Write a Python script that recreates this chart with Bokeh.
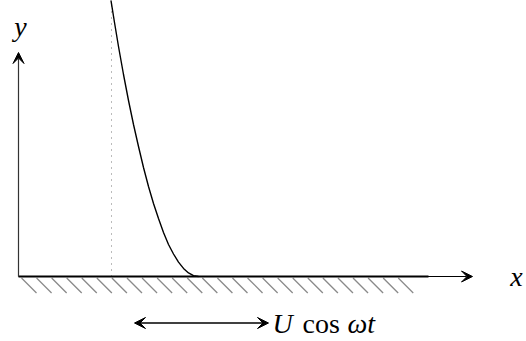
from bokeh.plotting import figure
from bokeh.models import Range1d, Arrow, VeeHead
from bokeh.core.properties import value
from bokeh.embed import file_html
from bokeh.resources import INLINE
import numpy as np

# Diagram values (units: pixels relative to the origin, y upward)
curve_x = [92, 96, 100, 105, 110, 115, 120, 125, 130, 135, 140, 145, 150,
           155, 160, 165, 170, 175, 180]
curve_h = [279, 254, 230, 202, 176, 152, 130, 109, 90, 73, 58, 44, 32,
           22.5, 14.4, 8.1, 3.6, 0.9, 0]
dotted_x = 93
ground_end = 410
x_axis_end = 454
y_axis_end = 224
hatch_start = 3
hatch_step = 15.07
hatch_count = 26
osc_left, osc_right, osc_h = 116, 250, -46.5
label_x = "x"
label_y = "y"
osc_parts = ["U", "cos", "ωt"]

p = figure(width=526, height=341, output_backend="svg", toolbar_location=None,
           x_range=Range1d(-18, 508), y_range=Range1d(-65, 276),
           min_border=0)
p.axis.visible = False
p.grid.visible = False
p.outline_line_color = None
p.background_fill_color = "white"
p.border_fill_color = "white"

# hatching below the ground
hx0 = hatch_start + hatch_step * np.arange(hatch_count)
p.segment(x0=hx0, y0=-1.5, x1=hx0 + 15, y1=-16.5, line_color="#8a8a8a", line_width=1.3)

# dotted line
p.segment(x0=[dotted_x], y0=[0], x1=[dotted_x], y1=[280], line_color="#777777",
          line_width=1, line_dash="1 5")

# x axis (thin with arrow) and ground (thick)
p.add_layout(Arrow(x_start=0, y_start=0, x_end=x_axis_end, y_end=0,
                   line_color="black", line_width=1,
                   end=VeeHead(size=11, fill_color="black", line_color="black")))
p.segment(x0=[0], y0=[0], x1=[ground_end], y1=[0], line_color="black", line_width=2.2)

# y axis
p.add_layout(Arrow(x_start=0, y_start=0, x_end=0, y_end=y_axis_end,
                   line_color="#333333", line_width=1.2,
                   end=VeeHead(size=11, fill_color="black", line_color="black")))

# curve
p.line(curve_x, curve_h, line_color="black", line_width=1.4)

# oscillation arrow
p.add_layout(Arrow(x_start=osc_left, y_start=osc_h, x_end=osc_right, y_end=osc_h,
                   line_color="black", line_width=1.6,
                   start=VeeHead(size=11, fill_color="black", line_color="black"),
                   end=VeeHead(size=11, fill_color="black", line_color="black")))

font = value("Liberation Serif")
p.text(x=[254], y=[osc_h], text=[osc_parts[0]], text_font=font, text_font_size="28px",
       text_font_style="italic", text_baseline="middle", text_align="left")
p.text(x=[284], y=[osc_h], text=[osc_parts[1]], text_font=font, text_font_size="28px",
       text_baseline="middle", text_align="left")
p.text(x=[329], y=[osc_h], text=[osc_parts[2]], text_font=font, text_font_size="28px",
       text_font_style="italic", text_baseline="middle", text_align="left")

p.text(x=[498], y=[0], text=[label_x], text_font=font, text_font_size="28px",
       text_font_style="italic", text_baseline="middle", text_align="center")
p.text(x=[2], y=[250], text=[label_y], text_font=font, text_font_size="28px",
       text_font_style="italic", text_baseline="middle", text_align="center")

open("out.html", "w").write(file_html(p, INLINE))
